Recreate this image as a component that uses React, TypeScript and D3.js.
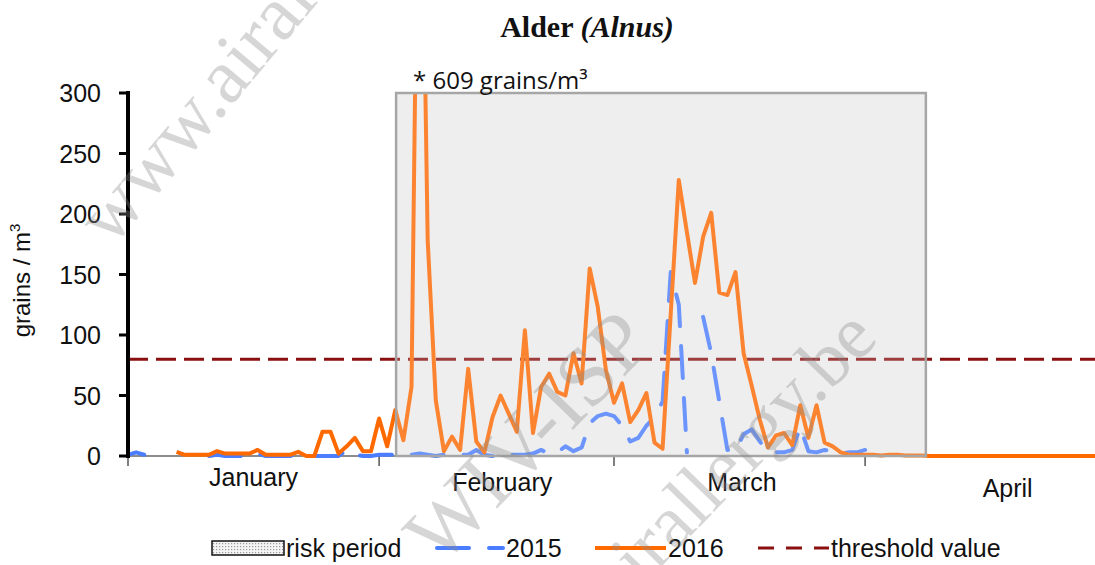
import * as d3 from 'd3';

// day index 0 = 1 January, one value per day
const months = ['January', 'February', 'March', 'April'];
const monthStarts = [0, 31, 60, 91];
const monthLabelDays = [15.5, 46.2, 75.8, 108.6];
const yTicks = [0, 50, 100, 150, 200, 250, 300];
const threshold = 80;
const riskPeriod = [33.1, 98.5];
const peakNote = '* 609 grains/m³';

const pollen2015 = [
    1, 3, 1, null, null, null, null, null, null, null, 0, 1, 0, 0, 0, 0, 2, 0, 0, 0, 0, 2, 0, 0, 0, 0, 0, 5, 1, 0, 0,
    1, 1, 1, 1, 1, 2, 1, 0, 1, 1, 1, 1, 5, 1, 0, 1, 1, 1, 1, 2, 5, 2, 3, 8, 4, 7, 27, 33, 35,
    33, 25, 12, 15, 25, 32, 45, 152, 125, 3, null, 115, 85, 45, 5, 4, 18, 22, 12, 4, 3, 3, 5, 24, 4, 3, 5, 4, 2, 3, 3, 5,
];

const pollen2016 = [
    null, null, null, null, null, null, 3.5, 1, 1, 1, 1, 4, 2, 2, 2, 2, 5, 1, 1, 1, 1, 3.5, 0, 0, 20, 20, 2, 8, 15, 4, 4,
    31, 8, 38, 13, 57, 609, 178, 46, 4, 16, 5, 72, 12, 3, 32, 50, 35, 20, 104, 19, 57, 68, 53, 50, 85, 60, 155, 123, 71,
    44, 60, 28, 38, 52, 11, 6, 117, 228, 185, 143, 181, 201, 135, 133, 152, 85, 58, 30, 7, 17, 19, 9, 42, 15, 42, 11, 8, 3, 1, 1,
    1, 1, 0.5, 1, 1, 0.5, 0.5, 0.5, 0, 0, 0, 0, 0, 0, 0, 0, 0, 0, 0, 0, 0, 0, 0, 0, 0, 0, 0, 0, 0, 0,
];

const width = 1095;
const height = 565;
const plot = { left: 128, right: 1100, top: 93, bottom: 456 };

const blue = '#4a7dff';
const orange = '#ff6a00';
const darkRed = '#8b1010';
const sans = "'Liberation Sans', Arial, sans-serif";
const labelSize = 25;

export default function App() {
    const x = d3.scaleLinear().domain([0, 120]).range([plot.left, plot.right]);
    const y = d3.scaleLinear().domain([0, 300]).range([plot.bottom, plot.top]);

    const line = d3
        .line<number | null>()
        .defined((d) => d !== null)
        .x((_, i) => x(i))
        .y((d) => y(d as number));

    const riskX0 = x(riskPeriod[0]);
    const riskX1 = x(riskPeriod[1]);

    const legendY = 548;

    return (
        <div style={{ position: 'absolute', left: 0, top: 0 }}>
            <svg width={width} height={height} style={{ display: 'block', background: '#fff' }}>
                <defs>
                    <clipPath id='plotClip'>
                        <rect x={plot.left} y={plot.top} width={plot.right - plot.left} height={plot.bottom - plot.top + 10} />
                    </clipPath>
                    <pattern id='dots' width='3' height='3' patternUnits='userSpaceOnUse'>
                        <rect width='3' height='3' fill='#f4f4f4' />
                        <rect width='1.2' height='1.2' fill='#9a9a9a' />
                    </pattern>
                </defs>

                {/* title */}
                <text x={587} y={37} textAnchor='middle' fontFamily="'Liberation Serif', 'Times New Roman', serif" fontSize={30} fontWeight='bold' fill='#111'>
                    Alder <tspan fontStyle='italic'>(Alnus)</tspan>
                </text>

                {/* risk period background */}
                <rect x={riskX0} y={plot.top} width={riskX1 - riskX0} height={plot.bottom - plot.top} fill='#eeeeee' />

                {/* x axis */}
                <line x1={plot.left} x2={plot.right} y1={plot.bottom} y2={plot.bottom} stroke='#8c8c8c' strokeWidth={2} />
                {monthStarts.map((m) => (
                    <line key={m} x1={x(m)} x2={x(m)} y1={plot.bottom} y2={plot.bottom + 10} stroke='#555' strokeWidth={1.5} />
                ))}
                {months.map((m, i) => (
                    <text key={m} x={x(monthLabelDays[i])} y={[486, 491, 491, 497][i]} textAnchor='middle' fontFamily={sans} fontSize={labelSize} fill='#111'>
                        {m}
                    </text>
                ))}

                <g clipPath='url(#plotClip)'>
                    {/* threshold */}
                    <line x1={plot.left} x2={plot.right} y1={y(threshold)} y2={y(threshold)} stroke={darkRed} strokeWidth={3} strokeDasharray='20 8' />
                    <path d={line(pollen2015) ?? ''} fill='none' stroke={blue} strokeWidth={4} strokeDasharray='32 20' strokeLinecap='round' strokeLinejoin='round' />
                    <path d={line(pollen2016) ?? ''} fill='none' stroke={orange} strokeWidth={4} strokeLinejoin='round' />
                </g>

                {/* risk period veil and border */}
                <rect x={riskX0} y={plot.top} width={riskX1 - riskX0} height={plot.bottom - plot.top} fill='#eeeeee' fillOpacity={0.2} stroke='#a6a6a6' strokeWidth={2.5} />

                <text x={413} y={89} fontFamily="'Open Sans', sans-serif" fontSize={24} fill='#111'>
                    {peakNote}
                </text>

                {/* y axis */}
                <line x1={plot.left} x2={plot.left} y1={plot.top - 2} y2={plot.bottom + 2} stroke='#000' strokeWidth={4} />
                {yTicks.map((t) => (
                    <g key={t}>
                        <line x1={plot.left - 9} x2={plot.left} y1={y(t)} y2={y(t)} stroke='#000' strokeWidth={3} />
                        <text x={101} y={y(t)} dy='0.36em' textAnchor='end' fontFamily={sans} fontSize={labelSize} fill='#111'>
                            {t}
                        </text>
                    </g>
                ))}
                <text transform={`translate(30, ${(plot.top + plot.bottom) / 2 + 6}) rotate(-90)`} textAnchor='middle' fontFamily={sans} fontSize={24} fill='#111'>
                    grains / m<tspan fontSize={15} dy={-10}>3</tspan>
                </text>

                {/* legend */}
                <rect x={212} y={legendY - 7} width={72} height={14} fill='url(#dots)' stroke='#111' strokeWidth={1.5} />
                <text x={286} y={legendY} dy='0.36em' fontFamily={sans} fontSize={labelSize} fill='#111'>risk period</text>
                <line x1={437} x2={503} y1={legendY} y2={legendY} stroke={blue} strokeWidth={4} strokeDasharray='32 20' strokeLinecap='round' />
                <text x={506} y={legendY} dy='0.36em' fontFamily={sans} fontSize={labelSize} fill='#111'>2015</text>
                <line x1={595} x2={666} y1={legendY} y2={legendY} stroke={orange} strokeWidth={4} />
                <text x={668} y={legendY} dy='0.36em' fontFamily={sans} fontSize={labelSize} fill='#111'>2016</text>
                <line x1={758} x2={829} y1={legendY} y2={legendY} stroke={darkRed} strokeWidth={3} strokeDasharray='16 12' />
                <text x={831} y={legendY} dy='0.36em' fontFamily={sans} fontSize={labelSize} fill='#111'>threshold value</text>

                {/* watermark, drawn over everything */}
                <g fontFamily="'Liberation Serif', serif" fill='#8a8a8a' fillOpacity={0.35} pointerEvents='none'>
                    <text transform='translate(112, 248) rotate(-50)' fontSize={78}>www.airallergy.be</text>
                    <text transform='translate(655, 345) rotate(-46)' textAnchor='end' fontSize={84}>WIV-ISP</text>
                    <text transform='translate(880, 340) rotate(-46)' textAnchor='end' fontSize={76}>www.airallergy.be</text>
                </g>
            </svg>
        </div>
    );
}
